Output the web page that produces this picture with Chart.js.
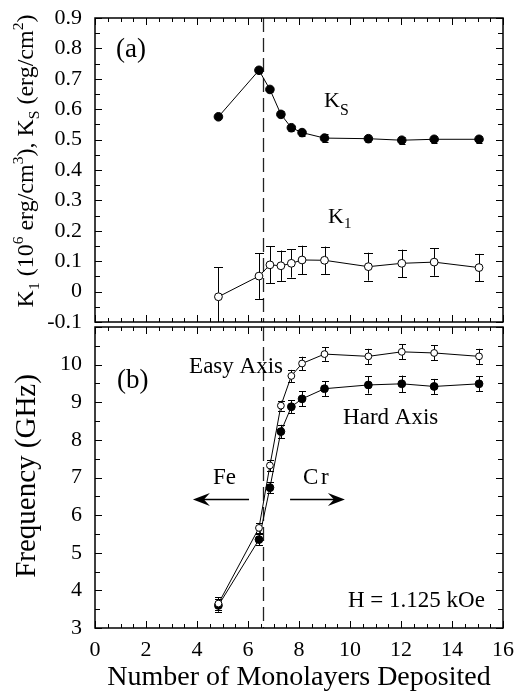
<!DOCTYPE html>
<html><head><meta charset="utf-8">
<script src="https://cdn.jsdelivr.net/npm/chart.js@4.4.1/dist/chart.umd.min.js"></script>
<style>
html,body{margin:0;padding:0;background:#fff;}
#wrap{position:relative;width:516px;height:694px;overflow:hidden;background:#fff;}
#top{position:absolute;left:0;top:0;}
#bot{position:absolute;left:0;top:322px;}
</style></head><body>
<div id="wrap"><canvas id="bot" width="516" height="372"></canvas><canvas id="top" width="516" height="342"></canvas></div>
<script>
// ---------- data ----------
const monolayers = [4.84, 6.43, 6.86, 7.29, 7.70, 8.12, 9.0, 10.72, 12.03, 13.3, 15.06];
const ksValues  = [0.575, 0.728, 0.665, 0.583, 0.539, 0.523, 0.505, 0.503, 0.498, 0.501, 0.501];
const ksErrors  = [0.008, 0.008, 0.008, 0.01, 0.01, 0.01, 0.012, 0.012, 0.012, 0.012, 0.012];
const k1Values  = [-0.017, 0.051, 0.088, 0.085, 0.093, 0.104, 0.103, 0.082, 0.093, 0.097, 0.079];
const k1Errors  = [0.097, 0.075, 0.061, 0.050, 0.047, 0.047, 0.045, 0.046, 0.045, 0.045, 0.045];
const easyAxis  = [3.65, 5.66, 7.32, 8.91, 9.70, 10.03, 10.28, 10.22, 10.34, 10.31, 10.22];
const easyErrors= [0.17, 0.13, 0.15, 0.13, 0.16, 0.18, 0.18, 0.20, 0.20, 0.20, 0.20];
const hardAxis  = [3.60, 5.35, 6.73, 8.22, 8.88, 9.09, 9.36, 9.46, 9.49, 9.42, 9.49];
const hardErrors= [0.17, 0.15, 0.15, 0.18, 0.17, 0.20, 0.20, 0.23, 0.22, 0.20, 0.20];
const xTickValues = [0, 2, 4, 6, 8, 10, 12, 14, 16];
const xTickLabels = ['0', '2', '4', '6', '8', '10', '12', '14', '16'];
const topTickValues = [-0.1, 0, 0.1, 0.2, 0.3, 0.4, 0.5, 0.6, 0.7, 0.8, 0.9];
const topTickLabels = ['-0.1', '0', '0.1', '0.2', '0.3', '0.4', '0.5', '0.6', '0.7', '0.8', '0.9'];
const botTickValues = [3, 4, 5, 6, 7, 8, 9, 10];
const botTickLabels = ['3', '4', '5', '6', '7', '8', '9', '10'];
const boundaryML = 6.6;

// ---------- helpers ----------
const SERIF = "'Liberation Serif', 'Times New Roman', serif";
const pts = vals => monolayers.map((x, i) => ({x: x, y: vals[i]}));
const zeroPad = s => { s.paddingTop = 0; s.paddingBottom = 0; s.paddingLeft = 0; s.paddingRight = 0; };

function frameTicksPlugin(yMinor, yMajor) {
  return {
    id: 'frameTicks',
    beforeDatasetsDraw(chart) {
      const {ctx, chartArea: a, scales: {x, y}} = chart;
      ctx.save();
      ctx.strokeStyle = '#222';
      ctx.lineWidth = 1.3;
      ctx.setLineDash([14, 6]);
      const bx = Math.round(x.getPixelForValue(boundaryML)) + 0.5;
      ctx.beginPath(); ctx.moveTo(bx, a.top); ctx.lineTo(bx, a.bottom); ctx.stroke();
      ctx.restore();
      ctx.save();
      ctx.strokeStyle = '#000';
      ctx.lineWidth = 1;
      chart.data.datasets.forEach(ds => {
        if (!ds.errors) return;
        ds.data.forEach((p, i) => {
          const e = ds.errors[i];
          const px = Math.round(x.getPixelForValue(p.x)) + 0.5;
          let yt = y.getPixelForValue(p.y + e), yb = y.getPixelForValue(p.y - e);
          const clipT = yt < a.top, clipB = yb > a.bottom;
          yt = Math.max(yt, a.top); yb = Math.min(yb, a.bottom);
          ctx.beginPath(); ctx.moveTo(px, yt); ctx.lineTo(px, yb);
          const c = ds.capHalf || 4;
          if (!clipT) { ctx.moveTo(px - c, Math.round(yt) + 0.5); ctx.lineTo(px + c, Math.round(yt) + 0.5); }
          if (!clipB) { ctx.moveTo(px - c, Math.round(yb) + 0.5); ctx.lineTo(px + c, Math.round(yb) + 0.5); }
          ctx.stroke();
        });
      });
      ctx.restore();
    },
    afterDraw(chart) {
      const {ctx, chartArea: a, scales: {x, y}} = chart;
      ctx.save();
      ctx.strokeStyle = '#000';
      ctx.lineWidth = 1;
      ctx.beginPath();
      for (let k = 0; k <= 32; k++) {
        const v = k * 0.5;
        const px = Math.round(x.getPixelForValue(v)) + 0.5;
        const len = (k % 4 === 0) ? 7 : 4;
        ctx.moveTo(px, a.top); ctx.lineTo(px, a.top + len);
        ctx.moveTo(px, a.bottom); ctx.lineTo(px, a.bottom - len);
      }
      const n = Math.round((y.max - y.min) / yMinor);
      for (let k = 0; k <= n; k++) {
        const v = y.min + k * yMinor;
        const py = Math.round(y.getPixelForValue(v)) + 0.5;
        const major = Math.abs(v / yMajor - Math.round(v / yMajor)) < 1e-6;
        const len = major ? 7 : 5;
        ctx.moveTo(a.left, py); ctx.lineTo(a.left + len, py);
        ctx.moveTo(a.right, py); ctx.lineTo(a.right - len, py);
      }
      ctx.stroke();
      ctx.lineWidth = 1.5;
      ctx.strokeRect(a.left, a.top, a.right - a.left, a.bottom - a.top);
      ctx.restore();
    }
  };
}

function drawRuns(ctx, runs, x, y, base, align) {
  let total = 0;
  runs.forEach(r => { ctx.font = (base * (r.s || 1)) + 'px ' + SERIF; total += ctx.measureText(r.t).width; });
  let cx = align === 'center' ? x - total / 2 : (align === 'right' ? x - total : x);
  ctx.textAlign = 'left';
  ctx.textBaseline = 'alphabetic';
  runs.forEach(r => {
    ctx.font = (base * (r.s || 1)) + 'px ' + SERIF;
    ctx.fillText(r.t, cx, y + (r.dy || 0) * base);
    cx += ctx.measureText(r.t).width;
  });
}

function textPlugin(items, extra) {
  return {
    id: 'texts',
    afterDraw(chart) {
      const {ctx, scales: {x, y}} = chart;
      ctx.save();
      ctx.fillStyle = '#000';
      items.forEach(it => {
        const px = x.getPixelForValue(it.x), py = y.getPixelForValue(it.y);
        drawRuns(ctx, it.runs, px, py, it.size, it.align || 'left');
      });
      if (extra) extra(chart, ctx);
      ctx.restore();
    }
  };
}

function arrow(ctx, x1, x2, yy) {
  const dir = Math.sign(x2 - x1);
  ctx.save();
  ctx.strokeStyle = '#000'; ctx.fillStyle = '#000'; ctx.lineWidth = 1.4;
  ctx.beginPath(); ctx.moveTo(x1, yy); ctx.lineTo(x2 - dir * 8, yy); ctx.stroke();
  ctx.beginPath();
  ctx.moveTo(x2, yy);
  ctx.lineTo(x2 - dir * 17, yy - 6.5);
  ctx.lineTo(x2 - dir * 11, yy);
  ctx.lineTo(x2 - dir * 17, yy + 6.5);
  ctx.closePath(); ctx.fill();
  ctx.restore();
}

const commonY = (min, max, vals, labels) => ({
  type: 'linear', min: min, max: max,
  afterBuildTicks(s) { s.ticks = vals.map(v => ({value: v})); },
  ticks: { callback: (v, i) => labels[i], font: {family: SERIF, size: 22}, color: '#000', padding: 13 },
  grid: { display: false, drawTicks: false },
  border: { display: false },
  afterFit(s) { s.width = 95; zeroPad(s); }
});

const baseOpts = {
  responsive: false, animation: false, events: [],
  plugins: { legend: {display: false}, tooltip: {enabled: false} }
};

// ---------- top panel ----------
new Chart(document.getElementById('top'), {
  type: 'scatter',
  data: { datasets: [
    { label: 'Ks', data: pts(ksValues), errors: ksErrors, capHalf: 3, showLine: true,
      borderColor: '#000', borderWidth: 1, pointRadius: 4.3, pointBackgroundColor: '#000', pointBorderColor: '#000', pointBorderWidth: 1 },
    { label: 'K1', data: pts(k1Values), errors: k1Errors, capHalf: 4.5, showLine: true,
      borderColor: '#000', borderWidth: 1, pointRadius: 3.9, pointBackgroundColor: '#fff', pointBorderColor: '#000', pointBorderWidth: 1 }
  ]},
  options: Object.assign({}, baseOpts, {
    layout: { padding: {left: 0, right: 13, top: 18, bottom: 20} },
    scales: {
      x: { type: 'linear', min: 0, max: 16, ticks: {display: false}, grid: {display: false, drawTicks: false}, border: {display: false}, afterFit(s) { s.height = 0; zeroPad(s); } },
      y: commonY(-0.1, 0.9, topTickValues, topTickLabels)
    }
  }),
  plugins: [frameTicksPlugin(0.05, 0.1), textPlugin([
    { x: 0.82, y: 0.772, size: 27, runs: [{t: '(a)'}] },
    { x: 8.98, y: 0.607, size: 22, runs: [{t: 'K'}, {t: 'S', s: 0.72, dy: 0.36}] },
    { x: 9.14, y: 0.226, size: 22, runs: [{t: 'K'}, {t: '1', s: 0.68, dy: 0.24}] }
  ], (chart, ctx) => {
    ctx.save();
    ctx.translate(33, 161);
    ctx.rotate(-Math.PI / 2);
    drawRuns(ctx, [
      {t: 'K'}, {t: '1', s: 0.65, dy: 0.25}, {t: ' (10'}, {t: '6', s: 0.65, dy: -0.42},
      {t: ' erg/cm'}, {t: '3', s: 0.65, dy: -0.42}, {t: '), K'}, {t: 'S', s: 0.65, dy: 0.25},
      {t: ' (erg/cm'}, {t: '2', s: 0.65, dy: -0.42}, {t: ')'}
    ], 0, 0, 24, 'center');
    ctx.restore();
  })]
});

// ---------- bottom panel ----------
new Chart(document.getElementById('bot'), {
  type: 'scatter',
  data: { datasets: [
    { label: 'Easy Axis', data: pts(easyAxis), errors: easyErrors, capHalf: 3.5, showLine: true,
      borderColor: '#000', borderWidth: 1, pointRadius: 3.4, pointBackgroundColor: '#fff', pointBorderColor: '#000', pointBorderWidth: 1 },
    { label: 'Hard Axis', data: pts(hardAxis), errors: hardErrors, capHalf: 3.5, showLine: true,
      borderColor: '#000', borderWidth: 1, pointRadius: 3.9, pointBackgroundColor: '#000', pointBorderColor: '#000', pointBorderWidth: 1 }
  ]},
  options: Object.assign({}, baseOpts, {
    layout: { padding: {left: 0, right: 13, top: 1, bottom: 0} },
    scales: {
      x: { type: 'linear', min: 0, max: 16,
        afterBuildTicks(s) { s.ticks = xTickValues.map(v => ({value: v})); },
        ticks: { callback: (v, i) => xTickLabels[i], font: {family: SERIF, size: 22}, color: '#000', padding: 9, maxRotation: 0 },
        grid: {display: false, drawTicks: false}, border: {display: false},
        afterFit(s) { s.height = 66; zeroPad(s); } },
      y: commonY(3, 11, botTickValues, botTickLabels)
    }
  }),
  plugins: [frameTicksPlugin(0.5, 1), textPlugin([
    { x: 0.86, y: 9.37, size: 27, runs: [{t: '(b)'}] },
    { x: 3.69, y: 9.79, size: 23, runs: [{t: 'Easy Axis'}] },
    { x: 9.73, y: 8.43, size: 23, runs: [{t: 'Hard Axis'}] },
    { x: 4.63, y: 6.83, size: 23, runs: [{t: 'Fe'}] },
    { x: 8.16, y: 6.83, size: 23, runs: [{t: 'C'}, {t: ' ', s: 0.45}, {t: 'r'}] },
    { x: 15.29, y: 3.55, size: 23, align: 'right', runs: [{t: 'H = 1.125 kOe'}] }
  ], (chart, ctx) => {
    const {scales: {x, y}} = chart;
    const ay = Math.round(y.getPixelForValue(6.44)) + 0.5;
    arrow(ctx, x.getPixelForValue(6.04), x.getPixelForValue(3.84), ay);
    arrow(ctx, x.getPixelForValue(7.65), x.getPixelForValue(9.80), ay);
    ctx.fillStyle = '#000';
    ctx.save();
    ctx.translate(35, 154);
    ctx.rotate(-Math.PI / 2);
    drawRuns(ctx, [{t: 'Frequency (GHz)'}], 0, 0, 29, 'center');
    ctx.restore();
    drawRuns(ctx, [{t: 'Number of Monolayers Deposited'}], 299, 363, 28, 'center');
  })]
});
</script>
</body></html>
